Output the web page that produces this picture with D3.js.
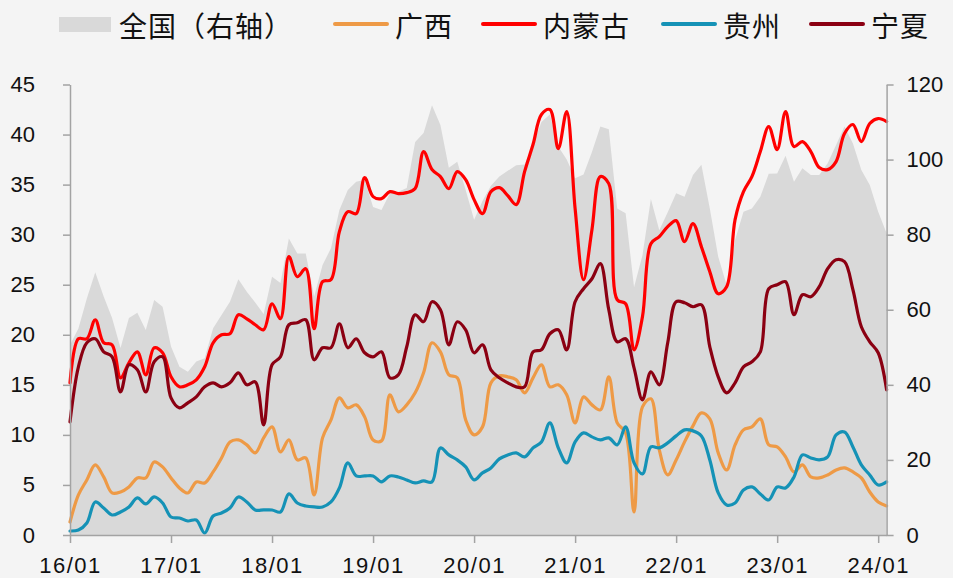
<!DOCTYPE html>
<html>
<head>
<meta charset="utf-8">
<script src="https://cdn.jsdelivr.net/npm/d3@7"></script>
<style>
  html, body { margin: 0; padding: 0; background: #f4f4f4; }
  svg { display: block; }
</style>
</head>
<body>
<div id="chart"></div>
<script>
// ---- data (monthly, 2016-01 .. 2024-02) ----
const startYear = 2016, nMonths = 98;
const months = d3.range(nMonths).map(i => {
  const y = startYear + Math.floor(i / 12), m = (i % 12) + 1;
  return String(y).slice(2) + "/" + String(m).padStart(2, "0");
});
const tickLabels = ["16/01","17/01","18/01","19/01","20/01","21/01","22/01","23/01","24/01"];
const leftTicks = [0,5,10,15,20,25,30,35,40,45];
const rightTicks = [0,20,40,60,80,100,120];

const national = [50.6,55,63,70,63.5,57.8,49.8,57.8,59.2,54.6,
  62.6,60.8,50.2,44.8,43.5,46.2,47.1,55.1,58.6,62.1,
  68.1,64.8,61.9,58.9,68.8,67.1,79.0,75.0,75.0,63.5,
  71.9,76.4,86.6,91.9,94.1,94.6,87.4,86.6,91.0,91.4,
  92.4,104.7,107.1,114.5,109.2,97.8,99.4,91.9,84,89,
  93,95.5,97,98.5,98.7,104,110,112,103.5,100,
  95,96,102,108.8,108.1,87,85.7,66,74.5,89.5,
  81.2,86,91,90.1,95.9,98.6,87,74.1,66.6,78.6,
  86.1,87,90.1,96.2,96.3,101,94.1,97.7,95.9,95.9,
  99,103.9,108.8,104.3,97.2,93.2,86.1,80.4];

const guangxi = [1.3,4.0,5.5,7.0,5.8,4.2,4.3,4.8,5.7,5.7,
  7.3,6.8,5.7,4.7,4.2,5.3,5.2,6.3,7.7,9.3,
  9.5,9.0,8.2,9.7,10.8,8.3,9.5,7.5,7.7,4.0,
  9.7,11.5,13.7,12.7,13.0,11.8,9.5,9.4,14.0,12.3,
  13.0,14.2,16.2,19.2,18.3,16.0,15.7,11.5,10.0,10.8,
  15.2,15.9,15.8,15.5,14.2,15.7,17.0,14.8,15.0,14.0,
  11.2,13.8,13.0,12.5,15.8,11.2,10.2,2.3,12.8,13.6,
  8.5,6.0,7.5,9.3,10.9,12.2,11.6,8.2,6.5,9.0,
  10.5,10.8,11.6,9.0,8.8,7.8,6.3,7.0,5.8,5.7,
  6.0,6.5,6.7,6.3,5.7,4.3,3.3,2.9];

const neimenggu = [15.2,19.6,19.6,21.5,19.2,19.0,15.7,17.2,18.3,16.0,
  18.7,18.2,15.8,14.8,15.0,15.5,16.8,19.2,20.0,20.1,
  22.0,21.6,21.0,20.5,23.1,21.6,27.8,25.8,26.6,20.6,
  25.3,25.5,30.3,32.3,32.1,35.7,33.8,33.6,34.3,34.1,
  34.2,34.6,38.3,36.5,35.8,34.6,36.3,35.5,33.5,32.1,
  34.3,34.7,33.9,33.0,36.3,39.0,42.0,42.5,38.6,42.3,
  32.6,25.5,30.5,35.8,35.1,23.5,23.1,18.5,21.8,29.1,
  29.8,30.8,31.4,29.3,31.1,28.8,26.3,24.1,24.8,31.5,
  34.3,35.8,38.3,40.8,38.5,42.3,38.8,39.3,38.3,36.7,
  36.5,37.3,40.1,41.0,39.3,41.1,41.6,41.3];

const guizhou = [0.4,0.5,1.2,3.3,2.7,2.0,2.3,2.8,3.7,3.1,
  3.8,3.2,1.8,1.7,1.4,1.5,0.2,1.9,2.2,2.7,
  3.8,3.3,2.5,2.5,2.5,2.3,4.1,3.2,2.9,2.8,
  2.8,3.3,4.7,7.2,5.9,5.9,5.9,5.3,5.9,5.8,
  5.5,5.2,5.4,5.3,8.7,8.0,7.5,6.8,5.5,6.2,
  6.7,7.6,8.0,8.2,7.8,8.7,9.3,11.2,8.7,7.2,
  9.3,10.2,9.8,9.5,9.7,9.0,10.8,7.2,6.1,8.8,
  8.7,9.2,9.9,10.5,10.4,9.9,7.5,4.2,3.0,3.2,
  4.5,4.8,4.1,3.5,4.8,4.7,5.8,8.0,7.7,7.5,
  7.8,10.0,10.3,8.8,7.0,6.0,5.0,5.3];

const ningxia = [11.3,16.8,19.2,19.6,18.3,17.8,14.3,17.0,16.5,14.3,
  17.3,17.8,13.7,12.7,13.2,13.8,14.8,15.2,14.8,15.2,
  16.2,15.0,15.3,11.0,17.0,17.8,21.0,21.2,21.5,17.5,
  18.7,18.7,21.1,18.7,19.6,18.2,17.8,18.3,15.7,16.0,
  18.8,22.0,21.3,23.3,22.5,19.0,21.3,20.5,18.2,19.0,
  16.5,15.7,15.2,14.8,14.8,18.3,18.5,20.1,20.5,18.5,
  23.3,24.6,25.6,27.1,22.5,19.3,19.6,16.7,13.5,16.3,
  15.0,19.2,23.3,23.2,22.8,23.0,18.8,15.8,14.2,15.2,
  16.8,17.3,18.3,24.6,25.0,25.3,22.0,24.0,23.8,24.8,
  26.6,27.5,27.3,24.5,20.8,19.3,18.2,14.5];

const seriesNames = ["广西","内蒙古","贵州","宁夏"];
const seriesData = [guangxi, neimenggu, guizhou, ningxia];
const seriesColors = ["#ee9a46","#ff0000","#1592b6","#8b0012"];
const areaName = "全国（右轴）";
const areaColor = "#d9d9d9";

// ---- layout ----
const W = 953, H = 578;
const x0 = 70, x1 = 886.6, yTop = 84.5, yBot = 535;
const axisColor = "#a3a3a3";

const svg = d3.select("#chart").append("svg").attr("width", W).attr("height", H);
svg.append("rect").attr("width", W).attr("height", H).attr("fill", "#f4f4f4");

const x = d3.scaleLinear().domain([0, nMonths - 1]).range([x0, x1]);
const yL = d3.scaleLinear().domain([0, 45]).range([yBot, yTop]);
const yR = d3.scaleLinear().domain([0, 120]).range([yBot, yTop]);

// area
svg.append("path")
  .datum(national)
  .attr("fill", areaColor)
  .attr("d", d3.area().x((d, i) => x(i)).y0(yR(0)).y1(d => yR(d)));

// lines
const line = d3.line().x((d, i) => x(i)).y(d => yL(d)).curve(d3.curveCatmullRom.alpha(0.5));
seriesData.forEach((s, k) => {
  svg.append("path").datum(s)
    .attr("fill", "none")
    .attr("stroke", seriesColors[k])
    .attr("stroke-width", 3.2)
    .attr("stroke-linejoin", "round")
    .attr("stroke-linecap", "round")
    .attr("d", line);
});

// axes
function styleAxis(g) {
  g.selectAll(".domain").attr("stroke", axisColor).attr("stroke-width", 1.5);
  g.selectAll(".tick line").attr("stroke", axisColor).attr("stroke-width", 1.5);
  g.selectAll(".tick text").attr("fill", "#111").attr("font-size", 22)
    .attr("font-family", "'Liberation Sans', Arial, sans-serif");
}
const gL = svg.append("g").attr("transform", `translate(${x0},0)`)
  .call(d3.axisLeft(yL).tickValues(leftTicks).tickSize(7).tickPadding(28).tickSizeOuter(0));
styleAxis(gL);
const gR = svg.append("g").attr("transform", `translate(${x1},0)`)
  .call(d3.axisRight(yR).tickValues(rightTicks).tickSize(7).tickPadding(13).tickSizeOuter(0));
styleAxis(gR);

const tickIdx = tickLabels.map(t => months.indexOf(t));
const gB = svg.append("g").attr("transform", `translate(0,${yBot})`)
  .call(d3.axisBottom(x).tickValues(tickIdx).tickFormat(i => months[i]).tickSize(8).tickSizeOuter(0));
styleAxis(gB);
gB.selectAll(".tick text").attr("dy", null).attr("y", 38).attr("letter-spacing", 1.5);

// legend
const lg = svg.append("g").attr("font-family", "'Noto Sans CJK SC', sans-serif").attr("font-size", 28).attr("fill", "#111");
lg.append("rect").attr("x", 59).attr("y", 17).attr("width", 52).attr("height", 15).attr("fill", areaColor);
lg.append("text").attr("x", 119).attr("y", 37).attr("letter-spacing", 1).text(areaName);
const legX = [334, 482, 662, 810];
seriesNames.forEach((n, k) => {
  lg.append("line").attr("x1", legX[k] + 1).attr("x2", legX[k] + 53).attr("y1", 24).attr("y2", 24)
    .attr("stroke", seriesColors[k]).attr("stroke-width", 4).attr("stroke-linecap", "round");
  lg.append("text").attr("x", legX[k] + 61).attr("y", 37).attr("letter-spacing", 1).text(n);
});
</script>
</body>
</html>
